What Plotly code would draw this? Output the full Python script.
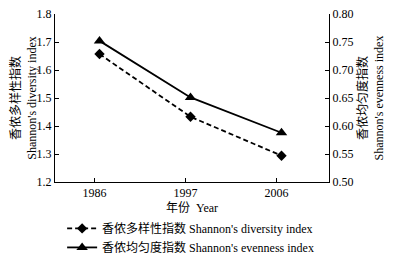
import plotly.graph_objects as go

years = ["1986", "1997", "2006"]
diversity = [1.657, 1.433, 1.294]
evenness = [0.752, 0.651, 0.588]

FONT = "Liberation Serif, Times New Roman, Noto Sans CJK SC, serif"
xpos = list(range(len(years)))
tick_shift = 0.055

fig = go.Figure()
fig.add_trace(go.Scatter(
    x=xpos, y=diversity, mode="lines+markers",
    name="香侬多样性指数 Shannon's diversity index",
    line=dict(color="black", width=1.8, dash="5px,3px"),
    marker=dict(symbol="diamond", size=8, color="black"),
))
fig.add_trace(go.Scatter(
    x=xpos, y=evenness, mode="lines+markers", yaxis="y2",
    name="香侬均匀度指数 Shannon's evenness index",
    line=dict(color="black", width=1.8),
    marker=dict(symbol="triangle-up", size=10, color="black"),
))

fig.update_layout(
    width=398, height=246,
    margin=dict(l=47, r=77, t=6, b=72, autoexpand=False),
    paper_bgcolor="white", plot_bgcolor="white",
    font=dict(family=FONT, size=12, color="black"),
    showlegend=True,
    legend=dict(x=0.026, y=-0.19, xanchor="left", yanchor="top",
                font=dict(size=12), tracegroupgap=0, itemwidth=30,
                bgcolor="rgba(0,0,0,0)"),
    xaxis=dict(
        range=[-0.489, 2.522],
        tickvals=[i - tick_shift for i in xpos], ticktext=years,
        showline=True, linecolor="black", linewidth=1,
        ticks="inside", ticklen=4, tickcolor="black",
        showgrid=False, zeroline=False,
        title=dict(text="年份  Year", standoff=4, font=dict(size=12)),
    ),
    yaxis=dict(
        range=[1.2, 1.8], tickvals=[1.2, 1.3, 1.4, 1.5, 1.6, 1.7, 1.8],
        tickformat=".1f", ticklabeloverflow="allow",
        showline=True, linecolor="black", linewidth=1,
        ticks="inside", ticklen=4, tickcolor="black",
        showgrid=False, zeroline=False,
        title=dict(text="香侬多样性指数<br>Shannon's diversity index", standoff=6, font=dict(size=12)),
    ),
    yaxis2=dict(
        range=[0.5, 0.8], tickvals=[0.5, 0.55, 0.6, 0.65, 0.7, 0.75, 0.8],
        tickformat=".2f", ticklabeloverflow="allow",
        overlaying="y", side="right",
        showline=True, linecolor="black", linewidth=1,
        ticks="inside", ticklen=4, tickcolor="black",
        showgrid=False, zeroline=False,
        title=dict(text="香侬均匀度指数<br>Shannon's evenness index", standoff=6, font=dict(size=12)),
    ),
)

fig.write_html("out.html")
